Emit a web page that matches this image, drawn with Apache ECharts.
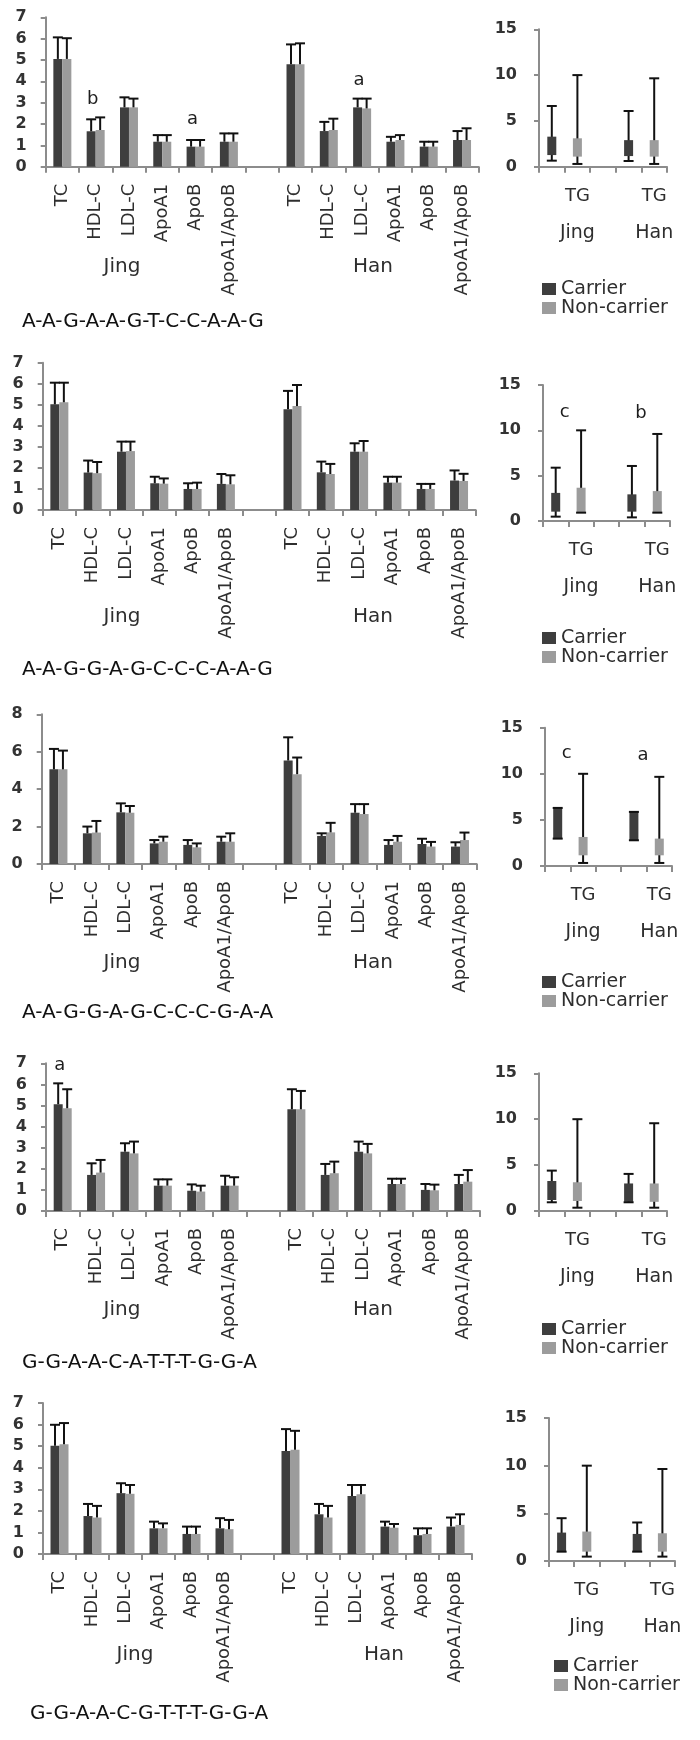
<!DOCTYPE html>
<html><head><meta charset="utf-8">
<script src="https://cdn.jsdelivr.net/npm/echarts/dist/echarts.min.js"></script>
<style>html,body{margin:0;padding:0;background:#fff}#c{width:700px;height:1740px}</style>
</head><body><div id="c"></div>
<script>
// ---------------- DATA ----------------
const lipidCategories = ['TC','HDL-C','LDL-C','ApoA1','ApoB','ApoA1/ApoB','','TC','HDL-C','LDL-C','ApoA1','ApoB','ApoA1/ApoB'];
const populations = ['Jing','Han'];
const tgCategories = ['', 'TG', '', '', 'TG'];
const tgPopulations = ['', 'Jing', '', '', 'Han'];
const seriesNames = ['Carrier','Non-carrier'];
const haplotypes = ['A-A-G-A-A-G-T-C-C-A-A-G','A-A-G-G-A-G-C-C-C-A-A-G','A-A-G-G-A-G-C-C-C-G-A-A','G-G-A-A-C-A-T-T-T-G-G-A','G-G-A-A-C-G-T-T-T-G-G-A'];
const lipidAxisMax = [7,7,8,7,7];
const lipidAxisStep = [1,1,2,1,1];
const tgAxisMax = 15;
const tgAxisStep = 5;

// per panel: Jing TC,HDL-C,LDL-C,ApoA1,ApoB,ApoA1/ApoB then Han same order
const carrierMean = [
  [5.05,1.66,2.78,1.17,0.94,1.17, 4.80,1.67,2.78,1.17,0.94,1.25],
  [5.02,1.78,2.77,1.27,1.00,1.24, 4.79,1.79,2.77,1.30,1.00,1.40],
  [5.06,1.64,2.76,1.10,1.02,1.19, 5.53,1.50,2.74,1.02,1.07,0.93],
  [5.06,1.71,2.81,1.20,0.96,1.20, 4.82,1.71,2.81,1.28,1.00,1.28],
  [5.02,1.76,2.82,1.19,0.93,1.19, 4.78,1.84,2.69,1.27,0.87,1.27]
];
const carrierUpper = [
  [6.06,2.22,3.25,1.48,1.25,1.56, 5.73,2.10,3.19,1.40,1.17,1.67],
  [6.05,2.35,3.25,1.58,1.27,1.71, 5.66,2.30,3.17,1.58,1.24,1.88],
  [6.15,2.00,3.24,1.28,1.28,1.46, 6.77,1.64,3.20,1.28,1.35,1.16],
  [6.05,2.26,3.21,1.50,1.26,1.67, 5.77,2.23,3.29,1.53,1.28,1.71],
  [5.99,2.32,3.28,1.50,1.27,1.66, 5.79,2.32,3.20,1.50,1.19,1.69]
];
const nonCarrierMean = [
  [5.05,1.72,2.78,1.17,0.94,1.17, 4.80,1.72,2.73,1.25,0.94,1.25],
  [5.12,1.75,2.80,1.25,1.00,1.22, 4.94,1.71,2.77,1.30,1.00,1.38],
  [5.06,1.68,2.74,1.19,0.89,1.19, 4.80,1.69,2.67,1.19,0.93,1.28],
  [4.87,1.82,2.73,1.20,0.92,1.20, 4.82,1.79,2.73,1.28,0.98,1.39],
  [5.09,1.69,2.79,1.19,0.93,1.15, 4.83,1.69,2.77,1.22,0.93,1.35]
];
const nonCarrierUpper = [
  [6.02,2.31,3.19,1.48,1.25,1.56, 5.78,2.25,3.19,1.48,1.17,1.80],
  [6.05,2.28,3.25,1.50,1.30,1.65, 5.94,2.19,3.28,1.58,1.24,1.72],
  [6.06,2.30,3.10,1.46,1.10,1.64, 5.69,2.20,3.20,1.50,1.18,1.68],
  [5.77,2.42,3.29,1.50,1.20,1.60, 5.69,2.34,3.18,1.53,1.25,1.94],
  [6.07,2.23,3.20,1.42,1.27,1.58, 5.71,2.23,3.20,1.39,1.19,1.84]
];
// TG: [min, lower, upper, max] for Jing, Han
const tgCarrier = [
  [[0.66,1.27,3.28,6.63],[0.62,1.16,2.90,6.08]],
  [[0.48,1.03,3.10,5.88],[0.40,1.03,2.94,6.07]],
  [[2.97,2.97,6.30,6.30],[2.79,2.79,5.87,5.87]],
  [[0.95,1.20,3.27,4.40],[0.95,1.00,3.00,4.04]],
  [[0.98,0.98,2.98,4.49],[0.98,0.98,2.84,4.04]]
];
const tgNonCarrier = [
  [[0.30,1.10,3.10,10.0],[0.30,1.10,2.90,9.65]],
  [[0.92,0.92,3.67,10.0],[0.92,0.92,3.30,9.60]],
  [[0.33,1.16,3.15,10.0],[0.33,1.16,2.97,9.67]],
  [[0.36,1.09,3.13,10.0],[0.36,1.00,3.00,9.56]],
  [[0.46,0.98,3.09,10.0],[0.46,0.98,2.91,9.65]]
];
// significance letters: [panel, chart, category slot, height, letter]
const letters = [
  [0,'lipid',1,3.15,'b'],[0,'lipid',4,2.2,'a'],[0,'lipid',9,4.05,'a'],
  [1,'tg',0,12.0,'c'],[1,'tg',3,11.9,'b'],
  [2,'tg',0,12.2,'c'],[2,'tg',3,12.0,'a'],
  [3,'lipid',0,6.9,'a']
];

// ---------------- LAYOUT ----------------
const PANELS = [
  {lg:[45.7,17.3,433,149.4], tg:[539,29.3,128,137.4], groupY:267, jingX:122, hanX:373, seqX:22, seqY:322, legX:537, legY:283},
  {lg:[42.7,362.7,433,147.3], tg:[543,385,127,136], groupY:617, jingX:122, hanX:373, seqX:22, seqY:670, legX:537, legY:632},
  {lg:[41.7,714.3,435,149.7], tg:[545,727.7,127,138.3], groupY:963, jingX:122, hanX:373, seqX:22, seqY:1013, legX:537, legY:976},
  {lg:[46,1063.3,434,147.7], tg:[539,1073.3,128,137.7], groupY:1310, jingX:122, hanX:373, seqX:22, seqY:1363, legX:537, legY:1323},
  {lg:[43,1403,429,151], tg:[549,1418,126,143], groupY:1655, jingX:135, hanX:384, seqX:30, seqY:1714, legX:549, legY:1660}
];
const DARK = '#3e3e3e', LIGHT = '#9c9c9c', AXIS = '#8c8c8c', TEXT = '#2e2e2e', FONT = 'DejaVu Sans';
const BAR_W = 9;

function slotOf(j){ return j < 6 ? j : j + 1; }
function expand(arr){ const out = []; lipidCategories.forEach(()=>out.push(null)); arr.forEach((v,j)=>{ out[slotOf(j)] = v; }); return out; }

function errRender(dx){
  return function(params, api){
    const b = api.coord([api.value(0), api.value(1)]);
    const t = api.coord([api.value(0), api.value(2)]);
    const x = b[0] + dx;
    return {type:'group', children:[
      {type:'line', shape:{x1:x,y1:b[1],x2:x,y2:t[1]}, style:{stroke:'#111',lineWidth:2}},
      {type:'line', shape:{x1:x-5,y1:t[1],x2:x+5,y2:t[1]}, style:{stroke:'#111',lineWidth:2}}
    ]};
  };
}
function tgRender(fill){
  return function(params, api){
    const i = api.value(0);
    const lo = api.coord([i, api.value(1)]), q1 = api.coord([i, api.value(2)]);
    const q3 = api.coord([i, api.value(3)]), hi = api.coord([i, api.value(4)]);
    const x = lo[0];
    return {type:'group', children:[
      {type:'line', shape:{x1:x,y1:lo[1],x2:x,y2:hi[1]}, style:{stroke:'#111',lineWidth:2}},
      {type:'rect', shape:{x:x-4.5,y:q3[1],width:9,height:Math.max(q1[1]-q3[1],1)}, style:{fill:fill}},
      {type:'line', shape:{x1:x-5,y1:hi[1],x2:x+5,y2:hi[1]}, style:{stroke:'#111',lineWidth:2}},
      {type:'line', shape:{x1:x-5,y1:lo[1],x2:x+5,y2:lo[1]}, style:{stroke:'#111',lineWidth:2}}
    ]};
  };
}
function letterRender(dx, texts){
  return function(params, api){
    const c = api.coord([api.value(0), api.value(1)]);
    return {type:'text', x:c[0]+dx, y:c[1], style:{text:texts[params.dataIndex], fill:'#1e1e1e', font:'18px "DejaVu Sans"', align:'center', verticalAlign:'middle'}};
  };
}

const grid = [], xAxis = [], yAxis = [], series = [], legend = [], graphic = [];
const axisLine = {show:true, lineStyle:{color:AXIS, width:2}};
const axisTick = {show:true, length:6, lineStyle:{color:AXIS, width:2}};

PANELS.forEach((P, p) => {
  const gi = 2*p, gt = 2*p+1;
  grid.push({left:P.lg[0], top:P.lg[1], width:P.lg[2], height:P.lg[3], containLabel:false});
  grid.push({left:P.tg[0], top:P.tg[1], width:P.tg[2], height:P.tg[3], containLabel:false});
  xAxis.push({type:'category', gridIndex:gi, data:lipidCategories, axisLine, axisTick:Object.assign({interval:0}, axisTick),
    axisLabel:{interval:0, rotate:90, margin:17, fontSize:18, color:TEXT, fontFamily:FONT}});
  xAxis.push({type:'category', gridIndex:gt, data:tgCategories, axisLine, axisTick:Object.assign({interval:0}, axisTick),
    axisLabel:{interval:0, margin:11, color:TEXT, fontFamily:FONT,
      formatter:(v,i)=> v ? '{a|'+v+'}\n{b|'+tgPopulations[i]+'}' : '',
      rich:{a:{fontSize:18,lineHeight:37,color:TEXT,fontFamily:FONT}, b:{fontSize:19,lineHeight:37,color:TEXT,fontFamily:FONT}}}});
  yAxis.push({type:'value', gridIndex:gi, min:0, max:lipidAxisMax[p], interval:lipidAxisStep[p], splitLine:{show:false},
    axisLine, axisTick:{show:true,length:5,lineStyle:{color:AXIS,width:2}},
    axisLabel:{fontSize:16, fontWeight:'bold', color:'#333', margin:19, fontFamily:FONT}});
  yAxis.push({type:'value', gridIndex:gt, min:0, max:tgAxisMax, interval:tgAxisStep, splitLine:{show:false},
    axisLine, axisTick:{show:true,length:5,lineStyle:{color:AXIS,width:2}},
    axisLabel:{fontSize:16, fontWeight:'bold', color:'#333', margin:22, fontFamily:FONT}});

  series.push({type:'bar', name:seriesNames[0], xAxisIndex:gi, yAxisIndex:gi, data:expand(carrierMean[p]), barWidth:BAR_W, barGap:'0%', itemStyle:{color:DARK}, z:2});
  series.push({type:'bar', name:seriesNames[1], xAxisIndex:gi, yAxisIndex:gi, data:expand(nonCarrierMean[p]), barWidth:BAR_W, barGap:'0%', itemStyle:{color:LIGHT}, z:2});
  series.push({type:'custom', name:'carrier-sd-'+p, xAxisIndex:gi, yAxisIndex:gi, renderItem:errRender(-BAR_W/2), z:3,
    encode:{x:0,y:[1,2]}, data:carrierMean[p].map((m,j)=>[slotOf(j), m, carrierUpper[p][j]])});
  series.push({type:'custom', name:'noncarrier-sd-'+p, xAxisIndex:gi, yAxisIndex:gi, renderItem:errRender(BAR_W/2), z:3,
    encode:{x:0,y:[1,2]}, data:nonCarrierMean[p].map((m,j)=>[slotOf(j), m, nonCarrierUpper[p][j]])});
  series.push({type:'custom', name:'tg-carrier-'+p, xAxisIndex:gt, yAxisIndex:gt, renderItem:tgRender(DARK), z:3,
    encode:{x:0,y:[1,2,3,4]}, data:[[0].concat(tgCarrier[p][0]), [3].concat(tgCarrier[p][1])]});
  series.push({type:'custom', name:'tg-noncarrier-'+p, xAxisIndex:gt, yAxisIndex:gt, renderItem:tgRender(LIGHT), z:3,
    encode:{x:0,y:[1,2,3,4]}, data:[[1].concat(tgNonCarrier[p][0]), [4].concat(tgNonCarrier[p][1])]});

  const L = letters.filter(r => r[0] === p);
  const lipidL = L.filter(r=>r[1]==='lipid'), tgL = L.filter(r=>r[1]==='tg');
  if (lipidL.length) series.push({type:'custom', name:'letters-'+p, xAxisIndex:gi, yAxisIndex:gi, z:5, silent:true,
    renderItem:letterRender(-3, lipidL.map(r=>r[4])), encode:{x:0,y:1}, data:lipidL.map(r=>[r[2], r[3]])});
  if (tgL.length) series.push({type:'custom', name:'tgletters-'+p, xAxisIndex:gt, yAxisIndex:gt, z:5, silent:true,
    renderItem:letterRender(9, tgL.map(r=>r[4])), encode:{x:0,y:1}, data:tgL.map(r=>[r[2], r[3]])});

  legend.push({data:seriesNames, orient:'vertical', left:P.legX, top:P.legY-8.5, itemWidth:14, itemHeight:12, itemGap:0,
    icon:'rect', selectedMode:false, textStyle:{fontSize:19, lineHeight:17, color:TEXT, fontFamily:FONT}});

  graphic.push({type:'text', x:P.jingX, y:P.groupY, style:{text:populations[0], font:'20px "DejaVu Sans"', fill:TEXT, align:'center', verticalAlign:'middle'}});
  graphic.push({type:'text', x:P.hanX, y:P.groupY, style:{text:populations[1], font:'20px "DejaVu Sans"', fill:TEXT, align:'center', verticalAlign:'middle'}});
  graphic.push({type:'text', x:P.seqX, y:P.seqY, style:{text:haplotypes[p], font:'20px "DejaVu Sans"', fill:'#111', align:'left', verticalAlign:'middle'}});
});

const chart = echarts.init(document.getElementById('c'), null, {renderer:'canvas'});
chart.setOption({animation:false, backgroundColor:'#fff', textStyle:{fontFamily:FONT}, grid, xAxis, yAxis, series, legend, graphic});
</script></body></html>
